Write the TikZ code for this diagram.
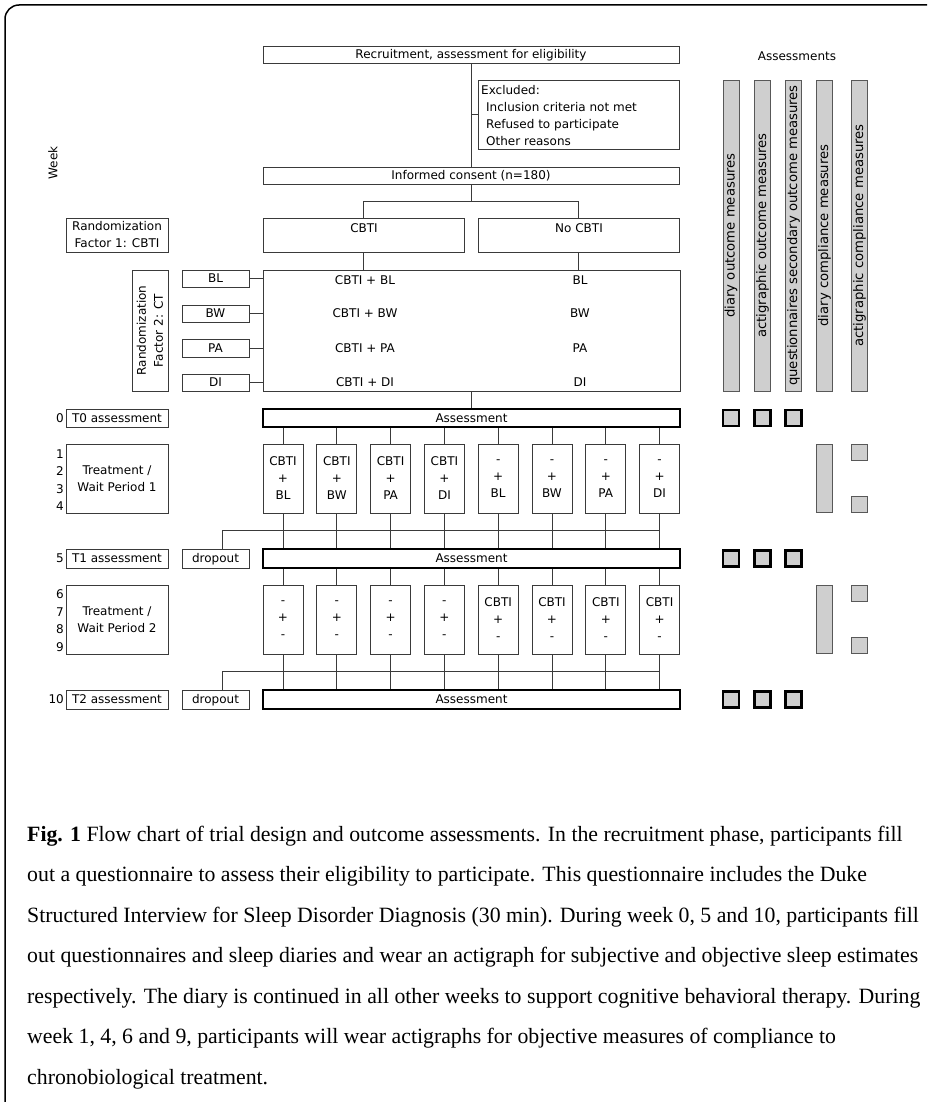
\documentclass[tikz,border=0pt]{standalone}
\usepackage{fontspec}
\setmainfont{Liberation Serif}
\newfontfamily\dvs{DejaVu Sans}
\usetikzlibrary{calc}
\definecolor{linec}{HTML}{3A3A3A}
\definecolor{grayf}{HTML}{CFCFCF}
\newcommand\Bx[7][]{\node[box,minimum width={(#5)-(#3)},minimum height={(#6)-(#4)},#1] (#2) at ({((#3)+(#5))/2},{((#4)+(#6))/2}) {#7};}
\begin{document}
\begin{tikzpicture}[x=1pt,y=-1pt,
 lbl/.style={font=\dvs\fontsize{12}{17}\selectfont,inner sep=0pt,text=black},
 sl/.style={lbl,text height=8.8pt,text depth=0pt},
 box/.style={draw=linec,line width=0.9pt,inner sep=0pt,lbl},
 abox/.style={draw=black,line width=2.2pt},
 conn/.style={draw=linec,line width=0.9pt},
 barr/.style={draw=linec!85,fill=grayf,line width=0.9pt,inner sep=0pt},
 sqq/.style={draw=black,fill=grayf,line width=2.2pt,inner sep=0pt,minimum size=16pt},
 rot/.style={font=\dvs\fontsize{13.2}{15}\selectfont,inner sep=0pt,rotate=90},
 captxt/.style={font=\fontsize{21.8}{26}\selectfont,inner sep=0pt,anchor=base west}]
\useasboundingbox (0,0) rectangle (927,1102);
\clip (0,0) rectangle (927,1102);
\draw[line width=1.5pt,rounded corners=14pt] (5,5) rectangle (950,1125);

% recruitment
\Bx[sl]{rec}{263}{46}{679}{63}{Recruitment, assessment for eligibility}
\Bx{excl}{478}{80}{679}{149}{}
\node[sl,anchor=base west] (ex1) at (481,94.4) {Excluded:};
\node[sl,anchor=base west] (ex2) at (486,111.4) {Inclusion criteria not met};
\node[sl,anchor=base west] (ex3) at (486,128.4) {Refused to participate};
\node[sl,anchor=base west] (ex4) at (486,145.4) {Other reasons};
\Bx[sl]{cons}{263}{167}{679}{184}{Informed consent (n=180)}
\draw[conn] (rec.south) -- (cons.north);
\draw[conn] (excl.west) -- (excl.west -| rec.south);

\node[sl,rotate=90] (week) at (53,163) {Week};

% factor 1
\Bx[align=center]{rf1}{66}{218}{168}{252}{Randomization\\Factor 1: CBTI}
\Bx{cbti}{263}{218}{464}{252}{}
\node[sl] (cbtit) at (364,228) {CBTI};
\Bx{nocbti}{478}{218}{679}{252}{}
\node[sl] (nocbtit) at (579,228) {No CBTI};
\coordinate (split) at ($(cons.south)!0.5!(cons.south |- cbti.north)$);
\draw[conn] (cons.south) -- (split);
\draw[conn] (cbti.north) -- (cbti.north |- split) -- (nocbti.north |- split) -- (nocbti.north);

% factor 2
\node[box,rotate=90,align=center,minimum width=121,minimum height=36] (rf2) at (150,330.5) {Randomization\\Factor 2: CT};
\Bx[sl]{bl}{182}{270}{249}{287}{BL}
\Bx[sl]{bw}{182}{305}{249}{322}{BW}
\Bx[sl]{pa}{182}{339}{249}{357}{PA}
\Bx[sl]{di}{182}{374}{249}{391}{DI}
\Bx{big}{263}{270}{680}{391}{}
\draw[conn] (cbti.south) -- (cbti.south |- big.north);
\draw[conn] (nocbti.south) -- (nocbti.south |- big.north);
\foreach \s in {bl,bw,pa,di} {\draw[conn] (\s.east) -- (\s.east -| big.west);}
\node[sl] (g1) at (365,280) {CBTI + BL};
\node[sl] (g2) at (365,313.5) {CBTI + BW};
\node[sl] (g3) at (365,348) {CBTI + PA};
\node[sl] (g4) at (365,382) {CBTI + DI};
\node[sl] (h1) at (580,280) {BL};
\node[sl] (h2) at (580,313.5) {BW};
\node[sl] (h3) at (580,348) {PA};
\node[sl] (h4) at (580,382) {DI};

% T0
\node[sl,anchor=east] (n0) at (64,418) {0};
\Bx[sl]{t0}{66}{409}{168}{427}{T0 assessment}
\Bx[sl,abox]{A0}{263}{409}{680}{427}{Assessment}
\draw[conn] (big.south) -- (A0.north);

% treatment 1
\Bx[align=center]{tw1}{66}{444}{168}{513}{Treatment /\\Wait Period 1}
\node[sl,anchor=east] (n1) at (64,454) {1};
\node[sl,anchor=east] (n2) at (64,471.5) {2};
\node[sl,anchor=east] (n3) at (64,489) {3};
\node[sl,anchor=east] (n4) at (64,506) {4};
\foreach \i/\a/\b in {0/CBTI/BL,1/CBTI/BW,2/CBTI/PA,3/CBTI/DI,4/-/BL,5/-/BW,6/-/PA,7/-/DI} {
  \pgfmathsetmacro\L{263+53.8*\i}
  \Bx[align=center]{ta\i}{\L}{444}{\L+40}{513}{\a\\+\\\b}
  \draw[conn] (ta\i.north) -- (ta\i.north |- A0.south);
}

% T1
\node[sl,anchor=east] (n5) at (64,558.5) {5};
\Bx[sl]{t1}{66}{549}{168}{568}{T1 assessment}
\Bx[sl]{d1}{182}{549}{249}{568}{dropout}
\Bx[sl,abox]{A1}{263}{549}{680}{568}{Assessment}
\foreach \i in {0,...,7} {\draw[conn] (ta\i.south) -- (ta\i.south |- A1.north);}
\draw[conn] ([xshift=6.5pt]d1.north) |- ($(ta7.south)!0.5!(ta7.south |- A1.north)$);

% treatment 2
\Bx[align=center]{tw2}{66}{585}{168}{654}{Treatment /\\Wait Period 2}
\node[sl,anchor=east] (n6) at (64,594) {6};
\node[sl,anchor=east] (n7) at (64,612) {7};
\node[sl,anchor=east] (n8) at (64,629) {8};
\node[sl,anchor=east] (n9) at (64,647) {9};
\foreach \i/\a in {0/-,1/-,2/-,3/-,4/CBTI,5/CBTI,6/CBTI,7/CBTI} {
  \pgfmathsetmacro\L{263+53.8*\i}
  \Bx[align=center]{tb\i}{\L}{585}{\L+40}{654}{\a\\+\\-}
  \draw[conn] (tb\i.north) -- (tb\i.north |- A1.south);
}

% T2
\node[sl,anchor=east] (n10) at (64,699.5) {10};
\Bx[sl]{t2}{66}{690}{168}{709}{T2 assessment}
\Bx[sl]{d2}{182}{690}{249}{709}{dropout}
\Bx[sl,abox]{A2}{263}{690}{680}{709}{Assessment}
\foreach \i in {0,...,7} {\draw[conn] (tb\i.south) -- (tb\i.south |- A2.north);}
\draw[conn] ([xshift=6.5pt]d2.north) |- ($(tb7.south)!0.5!(tb7.south |- A2.north)$);

% assessments panel
\node[sl] (asst) at (797,56) {Assessments};
\foreach \n/\cx/\t in {1/731/diary outcome measures,2/762.5/actigraphic outcome measures,3/793.5/questionnaires secondary outcome measures,4/824.5/diary compliance measures,5/859.5/actigraphic compliance measures} {
  \node[barr,minimum width=16,minimum height=311] (bar\n) at (\cx,235.5) {};
  \node[rot] (bt\n) at (bar\n) {\t};
}
\foreach \r/\cy in {0/418,1/558.5,2/699.5} {
  \foreach \c/\cx in {1/731,2/762.5,3/793.5} {
    \node[sqq] (s\r\c) at (\cx,\cy) {};
  }
}
\node[barr,minimum width=16,minimum height=68] (cb1) at (824.5,478.5) {};
\node[barr,minimum width=16,minimum height=16] (cs1) at (859.5,452.5) {};
\node[barr,minimum width=16,minimum height=16] (cs2) at (859.5,504.5) {};
\node[barr,minimum width=16,minimum height=68] (cb2) at (824.5,619.5) {};
\node[barr,minimum width=16,minimum height=16] (cs3) at (859.5,593.5) {};
\node[barr,minimum width=16,minimum height=16] (cs4) at (859.5,645.5) {};

% caption
\node[captxt] (c1) at (27,841) {\textbf{Fig. 1} Flow chart of trial design and outcome assessments. In the recruitment phase, participants fill};
\node[captxt] (c2) at (27,881.5) {out a questionnaire to assess their eligibility to participate. This questionnaire includes the Duke};
\node[captxt] (c3) at (27,922) {Structured Interview for Sleep Disorder Diagnosis (30 min). During week 0, 5 and 10, participants fill};
\node[captxt] (c4) at (27,962.5) {out questionnaires and sleep diaries and wear an actigraph for subjective and objective sleep estimates};
\node[captxt] (c5) at (27,1003) {respectively. The diary is continued in all other weeks to support cognitive behavioral therapy. During};
\node[captxt] (c6) at (27,1043.5) {week 1, 4, 6 and 9, participants will wear actigraphs for objective measures of compliance to};
\node[captxt] (c7) at (27,1084) {chronobiological treatment.};
\end{tikzpicture}
\end{document}
